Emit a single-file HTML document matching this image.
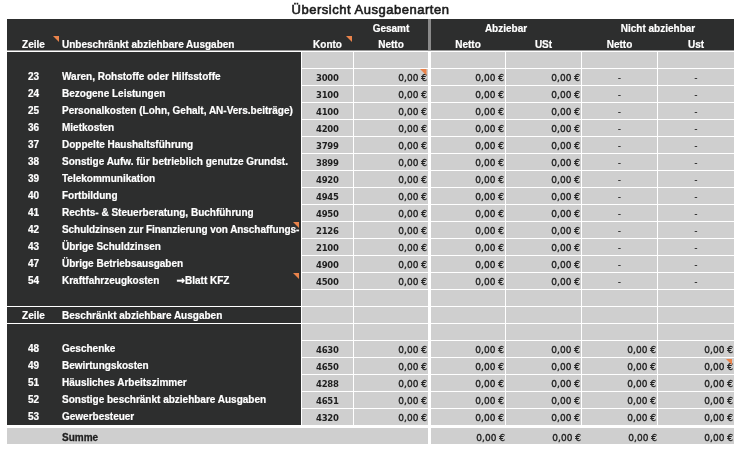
<!DOCTYPE html>
<html><head><meta charset="utf-8"><title>Übersicht Ausgabenarten</title>
<style>
*{margin:0;padding:0;box-sizing:border-box}
html,body{width:739px;height:452px;overflow:hidden;background:#fff}
#root{position:absolute;left:0;top:0;width:739px;height:452px;will-change:transform}
body{position:relative;font-family:"Liberation Sans",Arial,sans-serif;font-size:10px;}
.a{position:absolute}
.d{position:absolute;background:#2d2e2e}
.g{position:absolute;background:#cfcfcf;height:16px}
.t{position:absolute;white-space:nowrap;line-height:12px;height:12px}
.w{color:#ffffff;font-weight:bold;-webkit-text-stroke:0.2px #fff}
.k{color:#1f1f1f}
.b{font-weight:bold}
.sm{-webkit-text-stroke:0.3px #1f1f1f}
.c{text-align:center}
.r{text-align:right}
.kn{font-family:'DejaVu Sans',sans-serif;font-size:8.5px;letter-spacing:-0.25px;text-indent:-0.25px}
.n{-webkit-text-stroke:0.45px #1f1f1f}
.v{font-family:'DejaVu Sans',sans-serif;font-size:9px;-webkit-text-stroke:0.35px #1f1f1f}
</style></head><body><div id="root">

<div class="t k" style="left:0;width:741px;top:3px;font-size:13px;line-height:14px;height:14px;letter-spacing:0.52px;-webkit-text-stroke:0.6px #1c1c1c;text-align:center;color:#1c1c1c">Übersicht Ausgabenarten</div>
<div class="d" style="left:7px;top:19px;width:727px;height:31px"></div>
<div class="a" style="left:7px;top:50px;width:727px;height:1px;background:#9a9a9a"></div>
<div class="a" style="left:428px;top:19px;width:3px;height:31px;background:#8a8a8a"></div>
<div class="d" style="left:7px;top:52px;width:294px;height:373px"></div>
<div class="a" style="left:7px;top:306px;width:294px;height:1px;background:#fff"></div>
<div class="a" style="left:7px;top:323px;width:294px;height:1px;background:#fff"></div>
<div class="t w c" style="left:7px;top:39px;width:53px;">Zeile</div>
<div class="t w" style="left:62px;top:39px;width:230px;">Unbeschränkt abziehbare Ausgaben</div>
<div class="t w c" style="left:302px;top:39px;width:51px;">Konto</div>
<div class="t w c" style="left:354px;top:23px;width:74px;">Gesamt</div>
<div class="t w c" style="left:354px;top:39px;width:74px;">Netto</div>
<div class="t w c" style="left:431px;top:23px;width:150px;">Abziebar</div>
<div class="t w c" style="left:431px;top:39px;width:74px;">Netto</div>
<div class="t w c" style="left:506px;top:39px;width:75px;">USt</div>
<div class="t w c" style="left:582px;top:23px;width:152px;">Nicht abziehbar</div>
<div class="t w c" style="left:582px;top:39px;width:75px;">Netto</div>
<div class="t w c" style="left:658px;top:39px;width:76px;">Ust</div>
<svg class="a" style="left:53px;top:36px" width="6" height="6" viewBox="0 0 6 6"><polygon points="0,0 6,0 6,6" fill="#e9834b"/></svg>
<svg class="a" style="left:346px;top:36px" width="6" height="6" viewBox="0 0 6 6"><polygon points="0,0 6,0 6,6" fill="#e9834b"/></svg>
<div class="g" style="left:302px;top:52px;width:51px"></div>
<div class="g" style="left:354px;top:52px;width:74px"></div>
<div class="g" style="left:431px;top:52px;width:74px"></div>
<div class="g" style="left:506px;top:52px;width:75px"></div>
<div class="g" style="left:582px;top:52px;width:75px"></div>
<div class="g" style="left:658px;top:52px;width:76px"></div>
<div class="g" style="left:302px;top:69px;width:51px"></div>
<div class="g" style="left:354px;top:69px;width:74px"></div>
<div class="g" style="left:431px;top:69px;width:74px"></div>
<div class="g" style="left:506px;top:69px;width:75px"></div>
<div class="g" style="left:582px;top:69px;width:75px"></div>
<div class="g" style="left:658px;top:69px;width:76px"></div>
<div class="t w c" style="left:7px;top:71px;width:53px;">23</div>
<div class="t w" style="left:62px;top:71px;width:238px;">Waren, Rohstoffe oder Hilfsstoffe</div>
<div class="t k b c kn" style="left:302px;top:72px;width:51px;">3000</div>
<div class="t k r v" style="left:354px;top:72px;width:73px;">0,00 €</div>
<div class="t k r v" style="left:431px;top:72px;width:73px;">0,00 €</div>
<div class="t k r v" style="left:506px;top:72px;width:74px;">0,00 €</div>
<div class="t k c" style="left:582px;top:72px;width:75px;">-</div>
<div class="t k c" style="left:658px;top:72px;width:76px;">-</div>
<svg class="a" style="left:420.0px;top:69px" width="6.5" height="6.5" viewBox="0 0 6.5 6.5"><polygon points="0,0 6.5,0 6.5,6.5" fill="#e9834b"/></svg>
<div class="g" style="left:302px;top:86px;width:51px"></div>
<div class="g" style="left:354px;top:86px;width:74px"></div>
<div class="g" style="left:431px;top:86px;width:74px"></div>
<div class="g" style="left:506px;top:86px;width:75px"></div>
<div class="g" style="left:582px;top:86px;width:75px"></div>
<div class="g" style="left:658px;top:86px;width:76px"></div>
<div class="t w c" style="left:7px;top:88px;width:53px;">24</div>
<div class="t w" style="left:62px;top:88px;width:238px;">Bezogene Leistungen</div>
<div class="t k b c kn" style="left:302px;top:89px;width:51px;">3100</div>
<div class="t k r v" style="left:354px;top:89px;width:73px;">0,00 €</div>
<div class="t k r v" style="left:431px;top:89px;width:73px;">0,00 €</div>
<div class="t k r v" style="left:506px;top:89px;width:74px;">0,00 €</div>
<div class="t k c" style="left:582px;top:89px;width:75px;">-</div>
<div class="t k c" style="left:658px;top:89px;width:76px;">-</div>
<div class="g" style="left:302px;top:103px;width:51px"></div>
<div class="g" style="left:354px;top:103px;width:74px"></div>
<div class="g" style="left:431px;top:103px;width:74px"></div>
<div class="g" style="left:506px;top:103px;width:75px"></div>
<div class="g" style="left:582px;top:103px;width:75px"></div>
<div class="g" style="left:658px;top:103px;width:76px"></div>
<div class="t w c" style="left:7px;top:105px;width:53px;">25</div>
<div class="t w" style="left:62px;top:105px;width:238px;">Personalkosten (Lohn, Gehalt, AN-Vers.beiträge)</div>
<div class="t k b c kn" style="left:302px;top:106px;width:51px;">4100</div>
<div class="t k r v" style="left:354px;top:106px;width:73px;">0,00 €</div>
<div class="t k r v" style="left:431px;top:106px;width:73px;">0,00 €</div>
<div class="t k r v" style="left:506px;top:106px;width:74px;">0,00 €</div>
<div class="t k c" style="left:582px;top:106px;width:75px;">-</div>
<div class="t k c" style="left:658px;top:106px;width:76px;">-</div>
<div class="g" style="left:302px;top:120px;width:51px"></div>
<div class="g" style="left:354px;top:120px;width:74px"></div>
<div class="g" style="left:431px;top:120px;width:74px"></div>
<div class="g" style="left:506px;top:120px;width:75px"></div>
<div class="g" style="left:582px;top:120px;width:75px"></div>
<div class="g" style="left:658px;top:120px;width:76px"></div>
<div class="t w c" style="left:7px;top:122px;width:53px;">36</div>
<div class="t w" style="left:62px;top:122px;width:238px;">Mietkosten</div>
<div class="t k b c kn" style="left:302px;top:123px;width:51px;">4200</div>
<div class="t k r v" style="left:354px;top:123px;width:73px;">0,00 €</div>
<div class="t k r v" style="left:431px;top:123px;width:73px;">0,00 €</div>
<div class="t k r v" style="left:506px;top:123px;width:74px;">0,00 €</div>
<div class="t k c" style="left:582px;top:123px;width:75px;">-</div>
<div class="t k c" style="left:658px;top:123px;width:76px;">-</div>
<div class="g" style="left:302px;top:137px;width:51px"></div>
<div class="g" style="left:354px;top:137px;width:74px"></div>
<div class="g" style="left:431px;top:137px;width:74px"></div>
<div class="g" style="left:506px;top:137px;width:75px"></div>
<div class="g" style="left:582px;top:137px;width:75px"></div>
<div class="g" style="left:658px;top:137px;width:76px"></div>
<div class="t w c" style="left:7px;top:139px;width:53px;">37</div>
<div class="t w" style="left:62px;top:139px;width:238px;">Doppelte Haushaltsführung</div>
<div class="t k b c kn" style="left:302px;top:140px;width:51px;">3799</div>
<div class="t k r v" style="left:354px;top:140px;width:73px;">0,00 €</div>
<div class="t k r v" style="left:431px;top:140px;width:73px;">0,00 €</div>
<div class="t k r v" style="left:506px;top:140px;width:74px;">0,00 €</div>
<div class="t k c" style="left:582px;top:140px;width:75px;">-</div>
<div class="t k c" style="left:658px;top:140px;width:76px;">-</div>
<div class="g" style="left:302px;top:154px;width:51px"></div>
<div class="g" style="left:354px;top:154px;width:74px"></div>
<div class="g" style="left:431px;top:154px;width:74px"></div>
<div class="g" style="left:506px;top:154px;width:75px"></div>
<div class="g" style="left:582px;top:154px;width:75px"></div>
<div class="g" style="left:658px;top:154px;width:76px"></div>
<div class="t w c" style="left:7px;top:156px;width:53px;">38</div>
<div class="t w" style="left:62px;top:156px;width:238px;">Sonstige Aufw. für betrieblich genutze Grundst.</div>
<div class="t k b c kn" style="left:302px;top:157px;width:51px;">3899</div>
<div class="t k r v" style="left:354px;top:157px;width:73px;">0,00 €</div>
<div class="t k r v" style="left:431px;top:157px;width:73px;">0,00 €</div>
<div class="t k r v" style="left:506px;top:157px;width:74px;">0,00 €</div>
<div class="t k c" style="left:582px;top:157px;width:75px;">-</div>
<div class="t k c" style="left:658px;top:157px;width:76px;">-</div>
<div class="g" style="left:302px;top:171px;width:51px"></div>
<div class="g" style="left:354px;top:171px;width:74px"></div>
<div class="g" style="left:431px;top:171px;width:74px"></div>
<div class="g" style="left:506px;top:171px;width:75px"></div>
<div class="g" style="left:582px;top:171px;width:75px"></div>
<div class="g" style="left:658px;top:171px;width:76px"></div>
<div class="t w c" style="left:7px;top:173px;width:53px;">39</div>
<div class="t w" style="left:62px;top:173px;width:238px;">Telekommunikation</div>
<div class="t k b c kn" style="left:302px;top:174px;width:51px;">4920</div>
<div class="t k r v" style="left:354px;top:174px;width:73px;">0,00 €</div>
<div class="t k r v" style="left:431px;top:174px;width:73px;">0,00 €</div>
<div class="t k r v" style="left:506px;top:174px;width:74px;">0,00 €</div>
<div class="t k c" style="left:582px;top:174px;width:75px;">-</div>
<div class="t k c" style="left:658px;top:174px;width:76px;">-</div>
<div class="g" style="left:302px;top:188px;width:51px"></div>
<div class="g" style="left:354px;top:188px;width:74px"></div>
<div class="g" style="left:431px;top:188px;width:74px"></div>
<div class="g" style="left:506px;top:188px;width:75px"></div>
<div class="g" style="left:582px;top:188px;width:75px"></div>
<div class="g" style="left:658px;top:188px;width:76px"></div>
<div class="t w c" style="left:7px;top:190px;width:53px;">40</div>
<div class="t w" style="left:62px;top:190px;width:238px;">Fortbildung</div>
<div class="t k b c kn" style="left:302px;top:191px;width:51px;">4945</div>
<div class="t k r v" style="left:354px;top:191px;width:73px;">0,00 €</div>
<div class="t k r v" style="left:431px;top:191px;width:73px;">0,00 €</div>
<div class="t k r v" style="left:506px;top:191px;width:74px;">0,00 €</div>
<div class="t k c" style="left:582px;top:191px;width:75px;">-</div>
<div class="t k c" style="left:658px;top:191px;width:76px;">-</div>
<div class="g" style="left:302px;top:205px;width:51px"></div>
<div class="g" style="left:354px;top:205px;width:74px"></div>
<div class="g" style="left:431px;top:205px;width:74px"></div>
<div class="g" style="left:506px;top:205px;width:75px"></div>
<div class="g" style="left:582px;top:205px;width:75px"></div>
<div class="g" style="left:658px;top:205px;width:76px"></div>
<div class="t w c" style="left:7px;top:207px;width:53px;">41</div>
<div class="t w" style="left:62px;top:207px;width:238px;">Rechts- &amp; Steuerberatung, Buchführung</div>
<div class="t k b c kn" style="left:302px;top:208px;width:51px;">4950</div>
<div class="t k r v" style="left:354px;top:208px;width:73px;">0,00 €</div>
<div class="t k r v" style="left:431px;top:208px;width:73px;">0,00 €</div>
<div class="t k r v" style="left:506px;top:208px;width:74px;">0,00 €</div>
<div class="t k c" style="left:582px;top:208px;width:75px;">-</div>
<div class="t k c" style="left:658px;top:208px;width:76px;">-</div>
<div class="g" style="left:302px;top:222px;width:51px"></div>
<div class="g" style="left:354px;top:222px;width:74px"></div>
<div class="g" style="left:431px;top:222px;width:74px"></div>
<div class="g" style="left:506px;top:222px;width:75px"></div>
<div class="g" style="left:582px;top:222px;width:75px"></div>
<div class="g" style="left:658px;top:222px;width:76px"></div>
<div class="t w c" style="left:7px;top:224px;width:53px;">42</div>
<div class="t w" style="left:62px;top:224px;width:238px;letter-spacing:-0.06px">Schuldzinsen zur Finanzierung von Anschaffungs-</div>
<div class="t k b c kn" style="left:302px;top:225px;width:51px;">2126</div>
<div class="t k r v" style="left:354px;top:225px;width:73px;">0,00 €</div>
<div class="t k r v" style="left:431px;top:225px;width:73px;">0,00 €</div>
<div class="t k r v" style="left:506px;top:225px;width:74px;">0,00 €</div>
<div class="t k c" style="left:582px;top:225px;width:75px;">-</div>
<div class="t k c" style="left:658px;top:225px;width:76px;">-</div>
<svg class="a" style="left:293px;top:222px" width="6" height="6" viewBox="0 0 6 6"><polygon points="0,0 6,0 6,6" fill="#e9834b"/></svg>
<div class="g" style="left:302px;top:239px;width:51px"></div>
<div class="g" style="left:354px;top:239px;width:74px"></div>
<div class="g" style="left:431px;top:239px;width:74px"></div>
<div class="g" style="left:506px;top:239px;width:75px"></div>
<div class="g" style="left:582px;top:239px;width:75px"></div>
<div class="g" style="left:658px;top:239px;width:76px"></div>
<div class="t w c" style="left:7px;top:241px;width:53px;">43</div>
<div class="t w" style="left:62px;top:241px;width:238px;">Übrige Schuldzinsen</div>
<div class="t k b c kn" style="left:302px;top:242px;width:51px;">2100</div>
<div class="t k r v" style="left:354px;top:242px;width:73px;">0,00 €</div>
<div class="t k r v" style="left:431px;top:242px;width:73px;">0,00 €</div>
<div class="t k r v" style="left:506px;top:242px;width:74px;">0,00 €</div>
<div class="t k c" style="left:582px;top:242px;width:75px;">-</div>
<div class="t k c" style="left:658px;top:242px;width:76px;">-</div>
<div class="g" style="left:302px;top:256px;width:51px"></div>
<div class="g" style="left:354px;top:256px;width:74px"></div>
<div class="g" style="left:431px;top:256px;width:74px"></div>
<div class="g" style="left:506px;top:256px;width:75px"></div>
<div class="g" style="left:582px;top:256px;width:75px"></div>
<div class="g" style="left:658px;top:256px;width:76px"></div>
<div class="t w c" style="left:7px;top:258px;width:53px;">47</div>
<div class="t w" style="left:62px;top:258px;width:238px;">Übrige Betriebsausgaben</div>
<div class="t k b c kn" style="left:302px;top:259px;width:51px;">4900</div>
<div class="t k r v" style="left:354px;top:259px;width:73px;">0,00 €</div>
<div class="t k r v" style="left:431px;top:259px;width:73px;">0,00 €</div>
<div class="t k r v" style="left:506px;top:259px;width:74px;">0,00 €</div>
<div class="t k c" style="left:582px;top:259px;width:75px;">-</div>
<div class="t k c" style="left:658px;top:259px;width:76px;">-</div>
<div class="g" style="left:302px;top:273px;width:51px"></div>
<div class="g" style="left:354px;top:273px;width:74px"></div>
<div class="g" style="left:431px;top:273px;width:74px"></div>
<div class="g" style="left:506px;top:273px;width:75px"></div>
<div class="g" style="left:582px;top:273px;width:75px"></div>
<div class="g" style="left:658px;top:273px;width:76px"></div>
<div class="t w c" style="left:7px;top:275px;width:53px;">54</div>
<div class="t w" style="left:62px;top:275px;width:238px;">Kraftfahrzeugkosten</div>
<div class="t w" style="left:176.5px;top:275px;width:10px;font-family:'DejaVu Sans',sans-serif;-webkit-text-stroke:0.4px #fff;">→</div>
<div class="t w" style="left:185px;top:275px;width:60px;">Blatt KFZ</div>
<div class="t k b c kn" style="left:302px;top:276px;width:51px;">4500</div>
<div class="t k r v" style="left:354px;top:276px;width:73px;">0,00 €</div>
<div class="t k r v" style="left:431px;top:276px;width:73px;">0,00 €</div>
<div class="t k r v" style="left:506px;top:276px;width:74px;">0,00 €</div>
<div class="t k c" style="left:582px;top:276px;width:75px;">-</div>
<div class="t k c" style="left:658px;top:276px;width:76px;">-</div>
<svg class="a" style="left:293px;top:273px" width="6" height="6" viewBox="0 0 6 6"><polygon points="0,0 6,0 6,6" fill="#e9834b"/></svg>
<div class="g" style="left:302px;top:290px;width:51px"></div>
<div class="g" style="left:354px;top:290px;width:74px"></div>
<div class="g" style="left:431px;top:290px;width:74px"></div>
<div class="g" style="left:506px;top:290px;width:75px"></div>
<div class="g" style="left:582px;top:290px;width:75px"></div>
<div class="g" style="left:658px;top:290px;width:76px"></div>
<div class="g" style="left:302px;top:307px;width:51px"></div>
<div class="g" style="left:354px;top:307px;width:74px"></div>
<div class="g" style="left:431px;top:307px;width:74px"></div>
<div class="g" style="left:506px;top:307px;width:75px"></div>
<div class="g" style="left:582px;top:307px;width:75px"></div>
<div class="g" style="left:658px;top:307px;width:76px"></div>
<div class="t w c" style="left:7px;top:310px;width:53px;">Zeile</div>
<div class="t w" style="left:62px;top:310px;width:230px;">Beschränkt abziehbare Ausgaben</div>
<div class="g" style="left:302px;top:324px;width:51px"></div>
<div class="g" style="left:354px;top:324px;width:74px"></div>
<div class="g" style="left:431px;top:324px;width:74px"></div>
<div class="g" style="left:506px;top:324px;width:75px"></div>
<div class="g" style="left:582px;top:324px;width:75px"></div>
<div class="g" style="left:658px;top:324px;width:76px"></div>
<div class="g" style="left:302px;top:341px;width:51px"></div>
<div class="g" style="left:354px;top:341px;width:74px"></div>
<div class="g" style="left:431px;top:341px;width:74px"></div>
<div class="g" style="left:506px;top:341px;width:75px"></div>
<div class="g" style="left:582px;top:341px;width:75px"></div>
<div class="g" style="left:658px;top:341px;width:76px"></div>
<div class="t w c" style="left:7px;top:343px;width:53px;">48</div>
<div class="t w" style="left:62px;top:343px;width:238px;">Geschenke</div>
<div class="t k b c kn" style="left:302px;top:344px;width:51px;">4630</div>
<div class="t k r v" style="left:354px;top:344px;width:73px;">0,00 €</div>
<div class="t k r v" style="left:431px;top:344px;width:73px;">0,00 €</div>
<div class="t k r v" style="left:506px;top:344px;width:74px;">0,00 €</div>
<div class="t k r v" style="left:582px;top:344px;width:74px;">0,00 €</div>
<div class="t k r v" style="left:658px;top:344px;width:75px;">0,00 €</div>
<div class="g" style="left:302px;top:358px;width:51px"></div>
<div class="g" style="left:354px;top:358px;width:74px"></div>
<div class="g" style="left:431px;top:358px;width:74px"></div>
<div class="g" style="left:506px;top:358px;width:75px"></div>
<div class="g" style="left:582px;top:358px;width:75px"></div>
<div class="g" style="left:658px;top:358px;width:76px"></div>
<div class="t w c" style="left:7px;top:360px;width:53px;">49</div>
<div class="t w" style="left:62px;top:360px;width:238px;">Bewirtungskosten</div>
<div class="t k b c kn" style="left:302px;top:361px;width:51px;">4650</div>
<div class="t k r v" style="left:354px;top:361px;width:73px;">0,00 €</div>
<div class="t k r v" style="left:431px;top:361px;width:73px;">0,00 €</div>
<div class="t k r v" style="left:506px;top:361px;width:74px;">0,00 €</div>
<div class="t k r v" style="left:582px;top:361px;width:74px;">0,00 €</div>
<div class="t k r v" style="left:658px;top:361px;width:75px;">0,00 €</div>
<svg class="a" style="left:726px;top:359px" width="6" height="6" viewBox="0 0 6 6"><polygon points="0,0 6,0 6,6" fill="#e9834b"/></svg>
<div class="g" style="left:302px;top:375px;width:51px"></div>
<div class="g" style="left:354px;top:375px;width:74px"></div>
<div class="g" style="left:431px;top:375px;width:74px"></div>
<div class="g" style="left:506px;top:375px;width:75px"></div>
<div class="g" style="left:582px;top:375px;width:75px"></div>
<div class="g" style="left:658px;top:375px;width:76px"></div>
<div class="t w c" style="left:7px;top:377px;width:53px;">51</div>
<div class="t w" style="left:62px;top:377px;width:238px;">Häusliches Arbeitszimmer</div>
<div class="t k b c kn" style="left:302px;top:378px;width:51px;">4288</div>
<div class="t k r v" style="left:354px;top:378px;width:73px;">0,00 €</div>
<div class="t k r v" style="left:431px;top:378px;width:73px;">0,00 €</div>
<div class="t k r v" style="left:506px;top:378px;width:74px;">0,00 €</div>
<div class="t k r v" style="left:582px;top:378px;width:74px;">0,00 €</div>
<div class="t k r v" style="left:658px;top:378px;width:75px;">0,00 €</div>
<div class="g" style="left:302px;top:392px;width:51px"></div>
<div class="g" style="left:354px;top:392px;width:74px"></div>
<div class="g" style="left:431px;top:392px;width:74px"></div>
<div class="g" style="left:506px;top:392px;width:75px"></div>
<div class="g" style="left:582px;top:392px;width:75px"></div>
<div class="g" style="left:658px;top:392px;width:76px"></div>
<div class="t w c" style="left:7px;top:394px;width:53px;">52</div>
<div class="t w" style="left:62px;top:394px;width:238px;">Sonstige beschränkt abziehbare Ausgaben</div>
<div class="t k b c kn" style="left:302px;top:395px;width:51px;">4651</div>
<div class="t k r v" style="left:354px;top:395px;width:73px;">0,00 €</div>
<div class="t k r v" style="left:431px;top:395px;width:73px;">0,00 €</div>
<div class="t k r v" style="left:506px;top:395px;width:74px;">0,00 €</div>
<div class="t k r v" style="left:582px;top:395px;width:74px;">0,00 €</div>
<div class="t k r v" style="left:658px;top:395px;width:75px;">0,00 €</div>
<div class="g" style="left:302px;top:409px;width:51px"></div>
<div class="g" style="left:354px;top:409px;width:74px"></div>
<div class="g" style="left:431px;top:409px;width:74px"></div>
<div class="g" style="left:506px;top:409px;width:75px"></div>
<div class="g" style="left:582px;top:409px;width:75px"></div>
<div class="g" style="left:658px;top:409px;width:76px"></div>
<div class="t w c" style="left:7px;top:411px;width:53px;">53</div>
<div class="t w" style="left:62px;top:411px;width:238px;">Gewerbesteuer</div>
<div class="t k b c kn" style="left:302px;top:412px;width:51px;">4320</div>
<div class="t k r v" style="left:354px;top:412px;width:73px;">0,00 €</div>
<div class="t k r v" style="left:431px;top:412px;width:73px;">0,00 €</div>
<div class="t k r v" style="left:506px;top:412px;width:74px;">0,00 €</div>
<div class="t k r v" style="left:582px;top:412px;width:74px;">0,00 €</div>
<div class="t k r v" style="left:658px;top:412px;width:75px;">0,00 €</div>
<div class="a" style="left:7px;top:428px;width:421px;height:16px;background:#cfcfcf"></div>
<div class="a" style="left:431px;top:428px;width:303px;height:16px;background:#cfcfcf"></div>
<div class="t k b sm" style="left:62px;top:432px;width:100px;">Summe</div>
<div class="t k r v" style="left:431px;top:432px;width:74px;">0,00 €</div>
<div class="t k r v" style="left:506px;top:432px;width:75px;">0,00 €</div>
<div class="t k r v" style="left:582px;top:432px;width:75px;">0,00 €</div>
<div class="t k r v" style="left:658px;top:432px;width:75px;">0,00 €</div>
</div></body></html>
